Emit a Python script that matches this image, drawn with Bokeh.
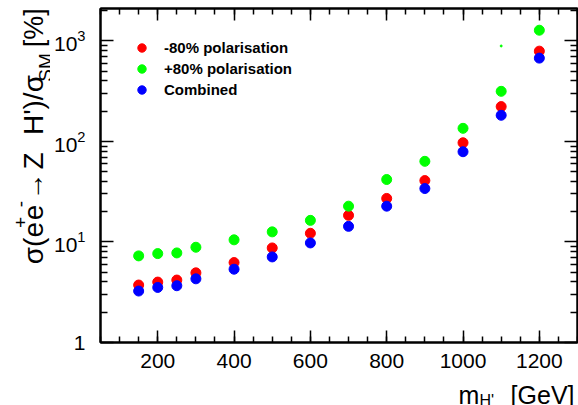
import math
from bokeh.plotting import figure
from bokeh.layouts import row, column
from bokeh.models import (Range1d, LogAxis, LinearAxis, FixedTicker, SingleIntervalTicker,
                          LogTickFormatter, CustomJSTickFormatter, Label, Legend, LegendItem)
from bokeh.embed import file_html
from bokeh.resources import INLINE

# ---- data ----
mass = [150, 200, 250, 300, 400, 500, 600, 700, 800, 900, 1000, 1100, 1200]
neg80 = [3.73, 3.99, 4.18, 4.93, 6.24, 8.72, 12.2, 18.4, 27.1, 40.8, 97, 222, 791]
pos80 = [7.27, 7.66, 7.78, 8.86, 10.5, 12.6, 16.4, 22.7, 41.8, 63.4, 135, 315, 1277]
combined = [3.25, 3.53, 3.67, 4.30, 5.36, 7.10, 9.78, 14.3, 22.7, 34.0, 79, 182, 674]
stray_mass = [1100]
stray_val = [890]

series_labels = ["-80% polarisation", "+80% polarisation", "Combined"]
y_ticks = [1, 10, 100, 1000]

X0, X1 = 50, 1300
Y0, Y1 = 1, 2100

W, H = 578, 405
LEFT_W = 50          # strip holding the y title
STRIP_TOP = 366      # page y where the (transparent) x-title strip starts
BOTTOM_H = H - STRIP_TOP
MAIN_BOTTOM = 46     # generous bottom border of the main plot
FRAME_TOP, FRAME_H = 8, 334
ROW_H = FRAME_TOP + FRAME_H + MAIN_BOTTOM

FONT = "Liberation Sans"

# ---------------- main plot ----------------
p = figure(y_axis_type="log", x_range=Range1d(X0, X1), y_range=Range1d(Y0, Y1),
           frame_width=477, frame_height=FRAME_H,
           min_border_left=98 - LEFT_W, min_border_right=3,
           min_border_top=FRAME_TOP, min_border_bottom=MAIN_BOTTOM,
           output_backend="svg", toolbar_location=None,
           background_fill_color="white", border_fill_color="white")
p.outline_line_color = "black"
p.outline_line_width = 2
p.xgrid.visible = False
p.ygrid.visible = False

xticker = SingleIntervalTicker(interval=200, num_minor_ticks=4)
yticker = FixedTicker(ticks=y_ticks,
                      minor_ticks=[k * 10 ** n for n in range(0, 4) for k in range(2, 10)])

def style(ax, major_in, minor_in):
    ax.major_tick_in = major_in
    ax.major_tick_out = 0
    ax.minor_tick_in = minor_in
    ax.minor_tick_out = 0
    ax.axis_line_width = 2
    ax.major_tick_line_width = 1.5
    ax.minor_tick_line_width = 1.5
    ax.major_label_text_font = FONT
    ax.major_label_text_font_size = "21px"
    ax.major_label_text_color = "black"

xa = p.xaxis[0]
xa.ticker = xticker
style(xa, 12, 6)
xa.major_label_standoff = 11

ya = p.yaxis[0]
ya.ticker = yticker
ya.formatter = LogTickFormatter(min_exponent=1)
style(ya, 13, 7)
ya.major_label_standoff = 15

blank = CustomJSTickFormatter(code="return ''")
top = LinearAxis(ticker=xticker, formatter=blank)
style(top, 12, 6)
top.major_label_text_font_size = "0px"
top.major_label_standoff = 0
p.add_layout(top, "above")

right = LogAxis(ticker=yticker, formatter=blank)
style(right, 13, 7)
right.major_label_text_font_size = "0px"
right.major_label_standoff = 0
p.add_layout(right, "right")

r_red = p.scatter(mass, neg80, marker="circle", size=10, color="#ff0000")
r_green = p.scatter(mass, pos80, marker="circle", size=10, color="#00ff00")
r_blue = p.scatter(mass, combined, marker="circle", size=10, color="#0000ff")
p.scatter(stray_mass, stray_val, marker="circle", size=2, color="#00ff00")

legend = Legend(items=[LegendItem(label=series_labels[0], renderers=[r_red]),
                       LegendItem(label=series_labels[1], renderers=[r_green]),
                       LegendItem(label=series_labels[2], renderers=[r_blue])],
                location="top_left", margin=29, padding=0, spacing=0,
                glyph_width=25, glyph_height=21, label_height=21, label_standoff=10,
                border_line_alpha=0, background_fill_alpha=0,
                label_text_font=FONT, label_text_font_style="bold",
                label_text_font_size="15px", label_text_color="black")
p.add_layout(legend)

# ---------------- title strips ----------------
def strip(w, h):
    f = figure(width=w, height=h, x_range=Range1d(0, w), y_range=Range1d(0, h),
               min_border=0, x_axis_location=None, y_axis_location=None,
               output_backend="svg", toolbar_location=None)
    f.background_fill_alpha = 0
    f.border_fill_alpha = 0
    f.outline_line_color = None
    f.xgrid.visible = False
    f.ygrid.visible = False
    return f

ly = strip(LEFT_W, ROW_H)
bx = strip(W, BOTTOM_H)
bx.margin = (STRIP_TOP - ROW_H, 0, 0, 0)   # pull the strip up under the tick labels

def lab(fig, y_top, text, px, py, size, angle=0.0, align="left"):
    # px, py: page pixels from the top-left corner; y_top: page y of the strip bottom
    fig.add_layout(Label(x=px, y=y_top - py, text=text, angle=angle,
                         text_font=FONT, text_font_size=f"{size}px",
                         text_align=align, text_baseline="alphabetic",
                         text_color="black"))

A = math.pi / 2
# y title: sigma(e+e- -> Z H')/sigma_SM [%]
lab(ly, ROW_H, "σ(e", 33, 297, 28, A)
lab(ly, ROW_H, "+", 20, 255, 19, A)
lab(ly, ROW_H, "e", 33, 246, 28, A)
lab(ly, ROW_H, "-", 20, 231, 19, A)
lab(ly, ROW_H, "→", 33, 223, 28, A)
lab(ly, ROW_H, "Z", 33, 187, 28, A)
lab(ly, ROW_H, "H')/σ", 33, 147, 28, A)
lab(ly, ROW_H, "SM", 45, 85, 19, A)
lab(ly, ROW_H, "[%]", 33, 45, 27, A)

# x title: m_H' [GeV]
lab(bx, H, "m", 458, 394, 25)
lab(bx, H, "H'", 479, 400, 16)
lab(bx, H, "[GeV]", 574, 394, 25, align="right")

layout = column(row(ly, p), bx)
open("out.html", "w").write(file_html(layout, INLINE))
